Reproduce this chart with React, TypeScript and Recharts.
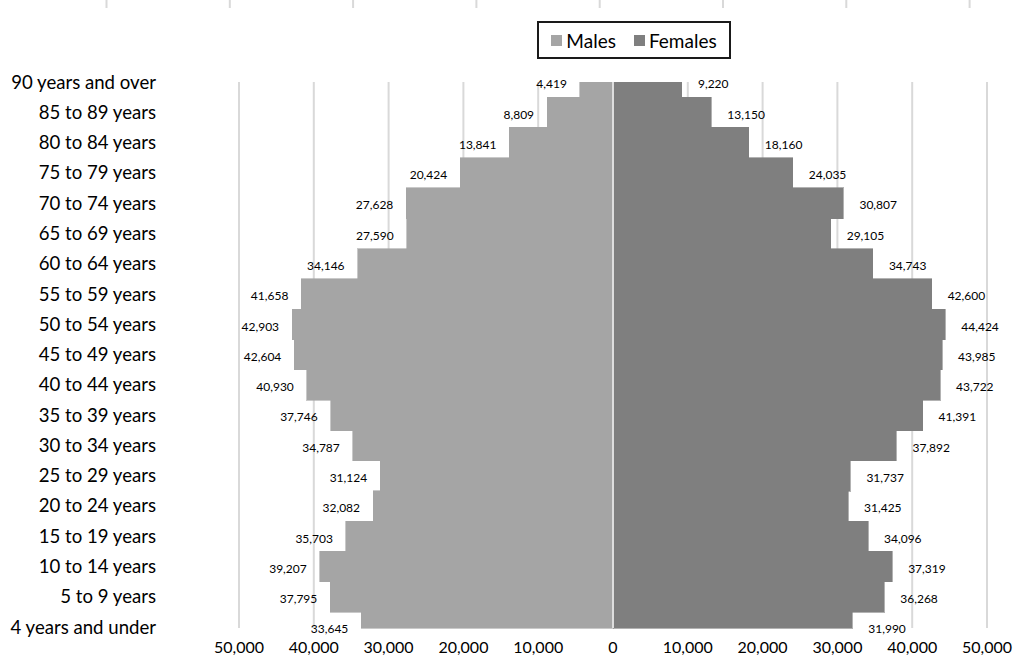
import React from "react";
import { BarChart, Bar, XAxis, YAxis, CartesianGrid, ReferenceLine, LabelList } from "recharts";

const categories = [
  "90 years and over", "85 to 89 years", "80 to 84 years", "75 to 79 years", "70 to 74 years",
  "65 to 69 years", "60 to 64 years", "55 to 59 years", "50 to 54 years", "45 to 49 years",
  "40 to 44 years", "35 to 39 years", "30 to 34 years", "25 to 29 years", "20 to 24 years",
  "15 to 19 years", "10 to 14 years", "5 to 9 years", "4 years and under",
];
const males = [4419, 8809, 13841, 20424, 27628, 27590, 34146, 41658, 42903, 42604, 40930, 37746, 34787, 31124, 32082, 35703, 39207, 37795, 33645];
const females = [9220, 13150, 18160, 24035, 30807, 29105, 34743, 42600, 44424, 43985, 43722, 41391, 37892, 31737, 31425, 34096, 37319, 36268, 31990];
const xTicks = [-50000, -40000, -30000, -20000, -10000, 0, 10000, 20000, 30000, 40000, 50000];
const topStubs = [0, 1, 2, 3, 4, 5, 6, 7];

const MALE_COLOR = "#a5a5a5";
const FEMALE_COLOR = "#7f7f7f";
const FONT = "Lato, 'Open Sans', sans-serif";

const CHART_W = 1024;
const CHART_H = 670;
const MARGIN = { top: 82, right: 37, bottom: 12, left: 0 };
const X_AXIS_H = 30;
const PLOT_TOP = MARGIN.top;
const PLOT_BOTTOM = CHART_H - MARGIN.bottom - X_AXIS_H;

const data = categories.map((c, i) => ({
  category: c,
  maleNeg: -males[i],
  male: males[i],
  female: females[i],
}));

const fmt = (v: number) => Math.abs(v).toLocaleString("en-US");

// Bar shape clipped to the plot area (rows at the edges are half-cut as in the original)
const ClippedBar = (props: any) => {
  const { x, y, width, height, fill } = props;
  const x0 = Math.min(x, x + width);
  const w = Math.abs(width);
  const yTop = Math.max(Math.min(y, y + height), PLOT_TOP);
  const yBot = Math.min(Math.max(y, y + height) + 0.6, PLOT_BOTTOM);
  if (yBot <= yTop || w <= 0) return <g />;
  return (
    <rect x={x0} y={yTop} width={w} height={yBot - yTop} fill={fill}
      stroke={fill} strokeWidth={0.6} shapeRendering="crispEdges" />
  );
};

const MaleLabel = (props: any) => {
  const { x, y, width, height, value } = props;
  const left = Math.min(x, x + width);
  return (
    <text x={left - 13} y={y + height / 2 + 2} textAnchor="end" dominantBaseline="central"
      fontFamily={FONT} fontSize={12} fill="#000">
      {fmt(value)}
    </text>
  );
};

const FemaleLabel = (props: any) => {
  const { x, y, width, height, value } = props;
  const right = Math.max(x, x + width);
  return (
    <text x={right + 16} y={y + height / 2 + 2} textAnchor="start" dominantBaseline="central"
      fontFamily={FONT} fontSize={12} fill="#000">
      {fmt(value)}
    </text>
  );
};

const ZeroLine = (props: any) => {
  const { x1, x2, y1, y2 } = props;
  const a = Math.max(Math.min(y1, y2), PLOT_TOP);
  const b = Math.min(Math.max(y1, y2), PLOT_BOTTOM);
  return <line x1={x1} x2={x2} y1={a} y2={b} stroke="#dedede" strokeWidth={2} />;
};

export default function App() {
  return (
    <div style={{ position: "absolute", left: 0, top: 0, width: CHART_W, height: CHART_H, background: "#fff", fontFamily: FONT }}>
      <svg width={CHART_W} height={10} style={{ position: "absolute", left: 0, top: 0 }}>
        {topStubs.map((k) => (
          <line key={k} x1={106.5 + k * 123.3} x2={106.5 + k * 123.3} y1={0} y2={8} stroke="#d9d9d9" strokeWidth={2} />
        ))}
      </svg>
      <div
        style={{
          position: "absolute", left: 537, top: 21, width: 190, height: 34,
          border: "2px solid #1a1a1a", display: "flex", alignItems: "center",
          justifyContent: "center", gap: 18, fontSize: 19, color: "#000", zIndex: 2,
        }}
      >
        <span style={{ display: "flex", alignItems: "center" }}>
          <span style={{ width: 11, height: 11, background: MALE_COLOR, marginRight: 4, display: "inline-block" }} />
          Males
        </span>
        <span style={{ display: "flex", alignItems: "center" }}>
          <span style={{ width: 11, height: 11, background: FEMALE_COLOR, marginRight: 4, display: "inline-block" }} />
          Females
        </span>
      </div>
      <BarChart
        width={CHART_W}
        height={CHART_H}
        data={data}
        layout="vertical"
        stackOffset="sign"
        barCategoryGap={0}
        margin={MARGIN}
        style={{ position: "absolute", left: 0, top: 0 }}
      >
        <CartesianGrid horizontal={false} stroke="#d9d9d9" strokeWidth={2} />
        <XAxis
          type="number"
          domain={[-50000, 50000]}
          ticks={xTicks}
          tickFormatter={fmt}
          axisLine={false}
          tickLine={false}
          height={X_AXIS_H}
          tickMargin={8}
          allowDataOverflow
          interval={0}
          tick={{ fontSize: 16, fill: "#000", fontFamily: FONT }}
        />
        <YAxis
          type="category"
          dataKey="category"
          width={239}
          axisLine={false}
          tickLine={false}
          tickMargin={77}
          interval={0}
          padding={{ top: -15.14, bottom: -14.14 }}
          tick={{ fontSize: 18.6, fill: "#000", fontFamily: FONT }}
        />
        <Bar dataKey="maleNeg" stackId="p" fill={MALE_COLOR} shape={ClippedBar} isAnimationActive={false}>
          <LabelList dataKey="male" content={MaleLabel} />
        </Bar>
        <Bar dataKey="female" stackId="p" fill={FEMALE_COLOR} shape={ClippedBar} isAnimationActive={false}>
          <LabelList dataKey="female" content={FemaleLabel} />
        </Bar>
        <ReferenceLine x={0} shape={ZeroLine} />
      </BarChart>
    </div>
  );
}
